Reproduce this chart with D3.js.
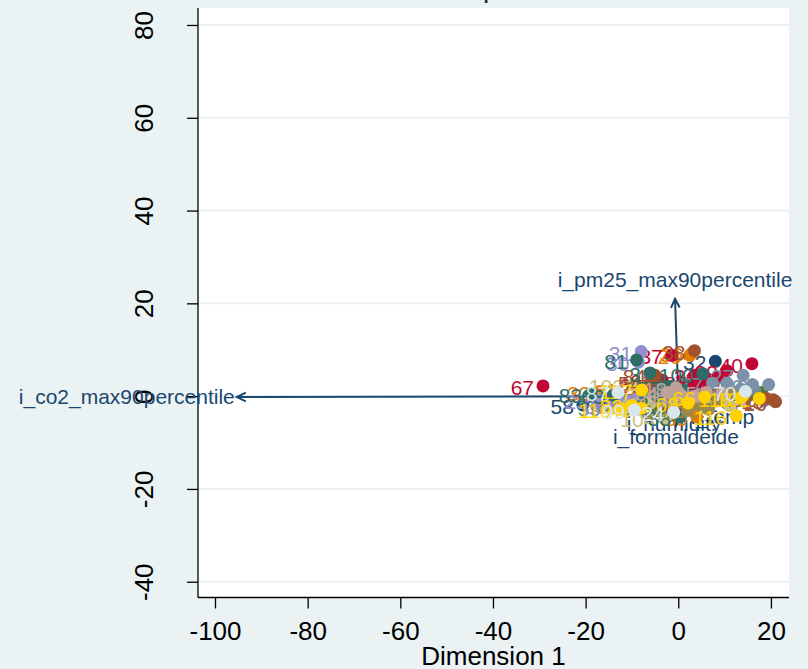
<!DOCTYPE html>
<html>
<head>
<meta charset="utf-8">
<script src="https://cdn.jsdelivr.net/npm/d3@7"></script>
<style>
  html, body { margin: 0; padding: 0; background: #eaf2f3; }
  svg { display: block; font-family: "Liberation Sans", Arial, sans-serif; }
</style>
</head>
<body>
<svg id="chart" width="808" height="669"></svg>
<script>
// observation scores (row points)
const obsId = [
  58, 32, 5, 72, 46, 19,
  47, 14, 95, 61,
  98, 106, 21, 74, 56,
  33, 89, 36, 26, 11, 112, 109,
  4, 59, 44, 101, 62,
  67, 37, 60, 39, 40, 2, 12, 22, 34, 85,
  30, 31, 78, 25, 29, 65, 50, 71,
  103, 104, 92, 48, 77,
  84, 38, 15, 16, 115, 54,
  27, 28, 17, 7, 93, 69,
  83, 100, 81, 88, 90, 3, 8, 63, 57,
  9, 10, 20, 76, 107,
  64, 13, 43, 52, 18, 41, 35,
  117, 116, 118, 66, 23, 45, 119, 102, 68,
  87, 99, 70, 24
]
const obsDim1 = [
  -20.6, 8.0, -3.0, 10.5, -12.0, 3.0,
  -7.0, 0.5, 13.0, -3.5,
  -8.5, 1.5, 15.0, -5.0, 18.0,
  -17.0, 4.0, 3.0, 2.5, -11.0, -6.5, 6.0,
  -4.0, -14.7, -3.0, 16.5, -1.0,
  -29.2, -1.4, -5.8, 10.5, 15.9, 3.5, 6.0, 8.5, 7.5, 4.0,
  -8.6, -8.0, -9.1, -17.6, -11.5, -13.5, 14.0, 18.5,
  -9.8, -3.0, -0.5, -6.0, 11.0,
  -5.0, 3.5, 20.5, 21.0, 19.0, -6.0,
  14.0, 19.5, 7.4, 10.5, 13.5, 16.0,
  -18.8, 5.3, -9.0, 0.4, 1.0, -6.1, -4.5, -14.0, -2.0,
  4.0, 6.5, 8.5, 11.5, 2.0,
  -2.4, 0.5, 3.5, 2.0, -0.5, 9.5, 6.0,
  -7.9, 12.5, 13.5, 5.7, -10.0, -8.0, -12.5, 17.5, 2.1,
  -13.0, -9.5, 14.5, -1.0
]
const obsDim2 = [
  -1.9, 7.5, -2.5, -1.5, -1.0, 2.0,
  -0.6, -2.0, 0.5, 3.5,
  -1.5, 2.5, 0.0, -2.8, 0.8,
  1.0, -4.5, 9.3, 8.8, -1.5, 1.5, -2.5,
  1.3, -2.4, -0.8, 1.2, -2.0,
  2.2, 8.8, 2.6, 5.5, 7.0, 4.5, 3.5, 4.0, 2.5, 3.0,
  7.3, 9.6, -0.6, -0.8, -0.8, -2.0, -0.5, -1.0,
  2.4, -4.8, -0.5, -1.5, -2.0,
  4.5, 9.8, -0.8, -1.2, -0.5, 3.0,
  4.5, 2.5, 2.8, 2.8, 1.5, 2.5,
  0.5, 4.8, 7.8, -4.5, 1.3, 5.0, 0.0, 0.2, 2.0,
  -1.8, -2.8, -1.0, 0.5, -3.0,
  0.8, 0.3, 0.0, -0.5, 1.8, 0.5, 0.8,
  1.3, -4.2, -0.3, -0.2, -2.0, -2.6, -2.8, -0.5, -1.5,
  0.8, -3.0, 1.0, -3.5
]
const obsGroup = [
  0, 0, 0, 0, 0, 0,
  1, 1, 1, 1,
  2, 2, 2, 2, 2,
  3, 3, 3, 3, 3, 3, 3,
  4, 4, 4, 4, 4,
  5, 5, 5, 5, 5, 5, 5, 5, 5, 5,
  6, 6, 6, 6, 6, 6, 6, 6,
  7, 7, 7, 7, 7,
  8, 8, 8, 8, 8, 8,
  9, 9, 9, 9, 9, 9,
  10, 10, 10, 10, 10, 10, 10, 10, 10,
  11, 11, 11, 11, 11,
  12, 12, 12, 12, 12, 12, 12,
  13, 13, 13, 13, 13, 13, 13, 13, 13,
  14, 14, 14, 14
]

// variable loadings (arrows)
const varNames = ['i_co2_max90percentile', 'i_pm25_max90percentile', 'i_formaldeide', 'i_temp', 'i_humidity']
const varDim1 = [-95.3, -0.7, -0.5, 1.9, -0.9]
const varDim2 = [-0.2, 21.0, -6.4, -2.1, -3.6]

const xTicks = [-100, -80, -60, -40, -20, 0, 20]
const yTicks = [-40, -20, 0, 20, 40, 60, 80]

// stata s2color palette
const palette = ['#1a476f', '#90353b', '#55752f', '#e37e00', '#6e8e84', '#c10534', '#938dd2',
  '#cac27e', '#a0522d', '#7b92a8', '#2d6d66', '#9c8847', '#bfa19c', '#ffd200', '#d9e6eb']

const W = 808, H = 669
const plot = { left: 198, right: 789, top: 8, bottom: 597.5 }
const arrowColor = '#1a476f'
const fmt = (d) => String(d) // plain hyphen minus, like stata

const svg = d3.select('#chart')

svg.append('rect').attr('width', W).attr('height', H).attr('fill', '#eaf2f3')

const x = d3.scaleLinear().domain([-103.67, 23.9]).range([plot.left, plot.right])
const y = d3.scaleLinear().domain([-43.4, 83.66]).range([plot.bottom, plot.top])

// title, mostly cut off at the top edge
svg.append('text')
  .attr('x', (plot.left + plot.right) / 2)
  .attr('y', -3)
  .attr('text-anchor', 'middle')
  .style('font-size', '30px')
  .attr('fill', '#1c2c4c')
  .text('Biplot')

svg.append('rect')
  .attr('x', plot.left).attr('y', plot.top)
  .attr('width', plot.right - plot.left).attr('height', plot.bottom - plot.top)
  .attr('fill', '#ffffff')

// horizontal grid
svg.append('g').selectAll('line')
  .data(yTicks)
  .enter()
  .append('line')
  .attr('x1', plot.left).attr('x2', plot.right)
  .attr('y1', (d) => y(d)).attr('y2', (d) => y(d))
  .attr('stroke', '#eaf2f3')
  .attr('stroke-width', 2)

// axes
const xAxis = svg.append('g')
  .attr('transform', 'translate(0,' + plot.bottom + ')')
  .call(d3.axisBottom(x).tickValues(xTicks).tickFormat(fmt).tickSize(11).tickSizeOuter(0))
xAxis.select('.domain').attr('stroke', '#000').attr('stroke-width', 1.3)
  .attr('d', 'M' + plot.left + ',0H' + plot.right)
xAxis.selectAll('.tick line').attr('stroke', '#000').attr('stroke-width', 1.3)
xAxis.selectAll('.tick text')
  .attr('fill', '#000')
  .style('font-size', '26px')
  .style('font-family', '"Liberation Sans", Arial, sans-serif')
  .attr('y', 42)
  .attr('dy', 0)

const yAxis = svg.append('g')
  .attr('transform', 'translate(' + plot.left + ',0)')
  .call(d3.axisLeft(y).tickValues(yTicks).tickFormat(fmt).tickSize(11).tickSizeOuter(0))
yAxis.select('.domain').attr('stroke', '#000').attr('stroke-width', 1.3)
  .attr('d', 'M0,' + plot.top + 'V' + plot.bottom)
yAxis.selectAll('.tick line').attr('stroke', '#000').attr('stroke-width', 1.3)
yAxis.selectAll('.tick text')
  .attr('fill', '#000')
  .style('font-size', '26px')
  .style('font-family', '"Liberation Sans", Arial, sans-serif')
  .attr('x', null).attr('dy', null)
  .attr('text-anchor', 'middle')
  .attr('transform', 'translate(-45,0) rotate(-90)')

svg.append('text')
  .attr('x', (plot.left + plot.right) / 2)
  .attr('y', 665)
  .attr('text-anchor', 'middle')
  .style('font-size', '26px')
  .attr('fill', '#000')
  .text('Dimension 1')

// arrows for the variables
const arrows = svg.append('g')
const x0 = x(0), y0 = y(0)
varNames.forEach((name, i) => {
  const tx = x(varDim1[i]), ty = y(varDim2[i])
  const ang = Math.atan2(ty - y0, tx - x0)
  const barb = 10, spread = Math.PI / 7
  arrows.append('path')
    .attr('d', 'M' + x0 + ',' + y0 + 'L' + tx + ',' + ty +
      'M' + (tx - barb * Math.cos(ang - spread)) + ',' + (ty - barb * Math.sin(ang - spread)) +
      'L' + tx + ',' + ty +
      'L' + (tx - barb * Math.cos(ang + spread)) + ',' + (ty - barb * Math.sin(ang + spread)))
    .attr('fill', 'none')
    .attr('stroke', arrowColor)
    .attr('stroke-width', 2)

  // clock position of the label from the arrow direction
  const deg = Math.atan2(varDim2[i], varDim1[i]) * 180 / Math.PI
  let clock = Math.round((((90 - deg) % 360) + 360) % 360 / 30)
  if (clock === 0) clock = 12
  let anchor = 'middle', lx = tx, ly = ty
  if (clock >= 1 && clock <= 5) { anchor = 'start'; lx = tx + 4 }
  if (clock >= 7 && clock <= 11) { anchor = 'end'; lx = tx - 2 }
  if (clock === 12 || clock === 11 || clock === 1) ly = ty - 12
  else if (clock >= 5 && clock <= 7) ly = ty + 18
  else ly = ty + 7
  arrows.append('text')
    .attr('x', lx).attr('y', ly)
    .attr('text-anchor', anchor)
    .style('font-size', '21px')
    .attr('fill', arrowColor)
    .text(name)
})

// observations, one layer per group
const obs = obsId.map((id, i) => ({ id: id, d1: obsDim1[i], d2: obsDim2[i], g: obsGroup[i] }))
const groups = d3.groups(obs, (d) => d.g).sort((a, b) => a[0] - b[0])

groups.forEach(([g, rows]) => {
  const layer = svg.append('g')
  layer.selectAll('circle')
    .data(rows)
    .enter()
    .append('circle')
    .attr('cx', (d) => x(d.d1))
    .attr('cy', (d) => y(d.d2))
    .attr('r', 6.5)
    .attr('fill', palette[g])
  layer.selectAll('text')
    .data(rows)
    .enter()
    .append('text')
    .attr('x', (d) => x(d.d1) - 9)
    .attr('y', (d) => y(d.d2) + 9)
    .attr('text-anchor', 'end')
    .style('font-size', '21px')
    .attr('fill', palette[g])
    .text((d) => d.id)
})
</script>
</body>
</html>
